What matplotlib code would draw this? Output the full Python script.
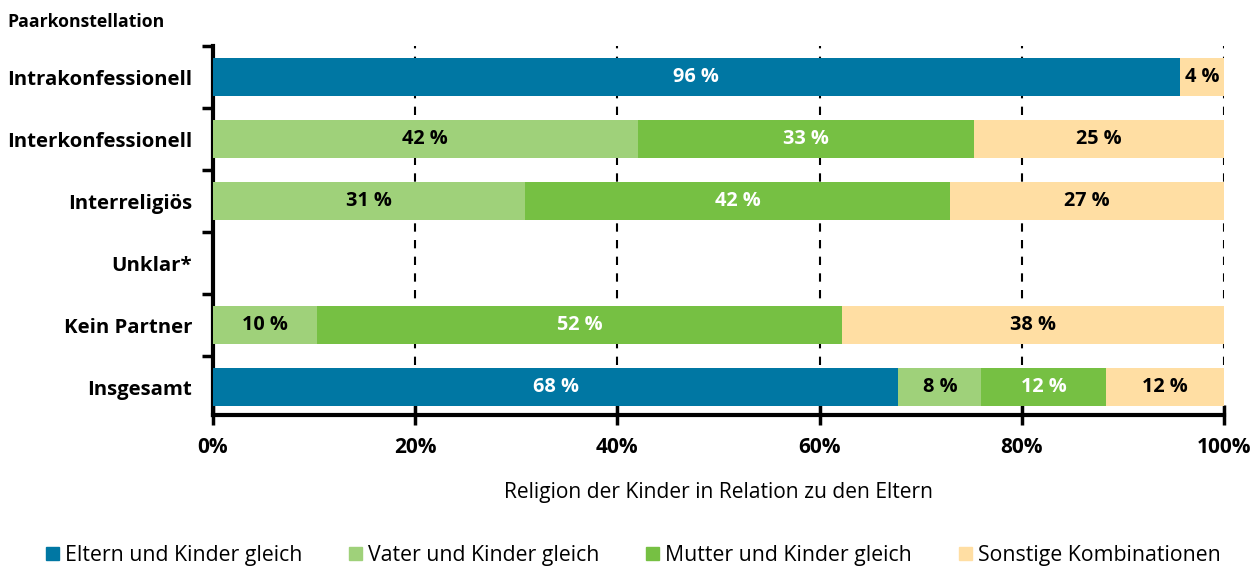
import numpy as np
import matplotlib.pyplot as plt
from matplotlib.patches import Patch

plt.rcParams['font.family'] = ['Open Sans', 'DejaVu Sans']

categories = ["Intrakonfessionell", "Interkonfessionell", "Interreligiös",
              "Unklar*", "Kein Partner", "Insgesamt"]
series = ["Eltern und Kinder gleich", "Vater und Kinder gleich",
          "Mutter und Kinder gleich", "Sonstige Kombinationen"]
eltern = [95.6, 0, 0, 0, 0, 67.8]
vater = [0, 42.0, 30.9, 0, 10.3, 8.2]
mutter = [0, 33.3, 42.0, 0, 51.9, 12.3]
sonstige = [4.4, 24.7, 27.1, 0, 37.8, 11.7]
labels = [
    ["96 %", "", "", "", "", "68 %"],
    ["", "42 %", "31 %", "", "10 %", "8 %"],
    ["", "33 %", "42 %", "", "52 %", "12 %"],
    ["4 %", "25 %", "27 %", "", "38 %", "12 %"],
]
colors = ["#0077a3", "#9fd17a", "#76c043", "#ffdea3"]
text_colors = ["white", "black", "white", "black"]

fig = plt.figure(figsize=(12.59, 5.68), dpi=100)
ax = fig.add_axes([0.1692, 0.2694, 0.8030, 0.6496])

y = np.arange(len(categories))
left = np.zeros(len(categories))
for vals, col, tcol, labs in zip([eltern, vater, mutter, sonstige], colors, text_colors, labels):
    vals = np.array(vals)
    ax.barh(y, vals, left=left, height=0.61, color=col, zorder=3)
    for yi, v, l, lab in zip(y, vals, left, labs):
        if lab:
            ax.text(l + v / 2, yi, lab, ha="center", va="center", color=tcol,
                    fontsize=14.3, fontweight="bold", zorder=4)
    left += vals

ax.set_xlim(0, 100)
ax.set_ylim(5.45, -0.5)
ax.set_xticks([0, 20, 40, 60, 80, 100])
ax.set_xticklabels(["0%", "20%", "40%", "60%", "80%", "100%"], fontsize=15, fontweight="bold")
ax.set_yticks(np.arange(-0.5, 5, 1.0))
ax.set_yticklabels([])
ax.set_yticks(y, minor=True)
ax.set_yticklabels(categories, minor=True, fontsize=14.7, fontweight="bold")
ax.tick_params(axis="y", which="minor", length=0, pad=15)
ax.tick_params(axis="y", which="major", length=8, width=2.5)
ax.tick_params(axis="x", direction="inout", length=14, width=2.5, pad=9)

for xv in [20, 40, 60, 80, 100]:
    ax.axvline(xv, color="black", linestyle=(0, (4, 4)), linewidth=1.5, zorder=1)

for s in ["top", "right"]:
    ax.spines[s].set_visible(False)
for s in ["left", "bottom"]:
    ax.spines[s].set_linewidth(3)

ax.set_xlabel("Religion der Kinder in Relation zu den Eltern", fontsize=15.1, labelpad=17)
fig.text(0.006, 0.962, "Paarkonstellation", fontsize=12.7, fontweight="bold", va="center")

handles = [Patch(color=c, label=s) for c, s in zip(colors, series)]
fig.legend(handles=handles, loc="center", bbox_to_anchor=(0.503, 0.022), ncol=4,
           frameon=False, fontsize=15.3, handlelength=0.6, handleheight=0.6,
           handletextpad=0.3, columnspacing=2.2)

fig.savefig("out.png", dpi=100)
